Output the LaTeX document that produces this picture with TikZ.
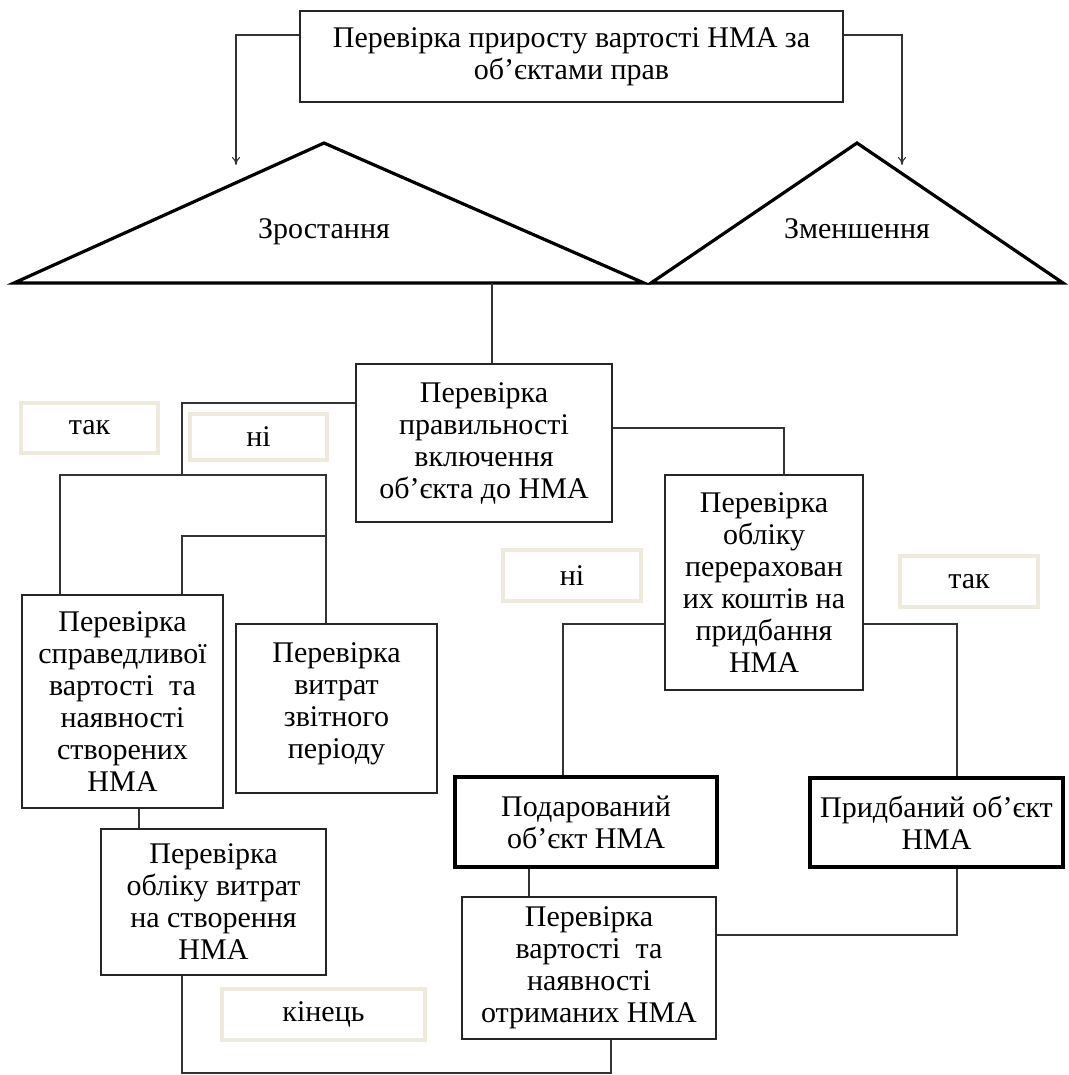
\documentclass[tikz,border=0pt]{standalone}
\usepackage{fontspec}
\setmainfont{Liberation Serif}
\usetikzlibrary{arrows.meta}
\definecolor{lblc}{RGB}{238,235,222}
\newcommand\fsz{\fontsize{22.5}{24}\selectfont}
\newcommand\bx[7]{\node[#1, minimum width={(#4-#3)*0.75pt}, minimum height={(#6-#5)*0.75pt}] (#2) at ({(#3+#4)/2},{(#5+#6)/2}) {#7};}
\begin{document}
\begin{tikzpicture}[x=0.75pt,y=-0.75pt,
  box/.style={draw=black!85, line width=1.6pt, align=center, inner sep=2pt, font=\fsz},
  thickbox/.style={box, draw=black, line width=2.8pt},
  lbl/.style={draw=lblc, line width=2.4pt, align=center, font=\fsz},
  conn/.style={draw=black!80, line width=0.8pt},
  arr/.style={conn, -{To[length=6pt,width=6pt]}},
  tri/.style={draw=black, line width=2.4pt, line join=miter},
  txt/.style={font=\fsz, anchor=base}]
\useasboundingbox (0,0) rectangle (1068,1075);

% top box
\bx{box}{top}{300}{843}{11}{102}{\fontsize{22.5}{26}\selectfont Перевірка приросту вартості НМА за\\об’єктами прав}

% triangles
\coordinate (tlA) at (14,283);
\coordinate (tlB) at (324,143);
\coordinate (tlC) at (644,283);
\coordinate (trA) at (651,283);
\coordinate (trB) at (857,143);
\coordinate (trC) at (1063,283);
\draw[tri] (tlA) -- (tlB) -- (tlC) -- cycle;
\draw[tri] (trA) -- (trB) -- (trC) -- cycle;
\node[txt] (zr) at (324,238) {Зростання};
\node[txt] (zm) at (857,238) {Зменшення};

% boxes
\bx{box}{b2}{356}{612}{364}{522}{Перевірка\\правильності\\включення\\об’єкта до НМА}
\bx{box}{b3}{22}{223}{595}{808}{Перевірка\\справедливої\\вартості~ та\\наявності\\створених\\НМА}
\bx{box}{b4}{236}{437}{624}{793}{Перевірка\\витрат\\звітного\\періоду\\[-12pt]}
\bx{box}{b5}{665}{863}{475}{690}{Перевірка\\обліку\\перерахован\\их коштів на\\придбання\\НМА}
\bx{thickbox}{b6}{455}{717}{777}{867}{Подарований\\об’єкт НМА}
\bx{thickbox}{b7}{810}{1063}{778}{867}{Придбаний об’єкт\\НМА}
\bx{box}{b8}{101}{326}{829}{975}{Перевірка\\обліку витрат\\на створення\\НМА}
\bx{box}{b9}{462}{716}{897}{1039}{Перевірка\\вартості~ та\\наявності\\отриманих НМА}

% labels
\bx{lbl}{l1}{21}{158}{403}{453}{так}
\bx{lbl}{l2}{190}{327}{414}{460}{ні}
\bx{lbl}{l3}{503}{641}{550}{601}{ні}
\bx{lbl}{l4}{900}{1038}{556}{607}{так}
\bx{lbl}{l5}{222}{425}{989}{1040}{кінець}

% connectors
\coordinate (aL) at (236,165);
\coordinate (aR) at (902,165);
\draw[arr] (top.west |- 0,35) -| (aL);
\draw[arr] (top.east |- 0,35) -| (aR);
\coordinate (base) at (492,283);
\draw[conn] (base) -- (base |- b2.north);
\coordinate (j1) at (182,475);
\draw[conn] (b2.west |- 0,403) -| (j1);
\draw[conn] (b3.north -| 60,0) |- (j1) -| (b4.north -| 326,0);
\draw[conn] (326,536) -| (b3.north -| 182,0);
\draw[conn] (b2.east |- 0,428) -| (b5.north -| 784,0);
\draw[conn] (b5.west |- 0,624) -| (b6.north -| 563,0);
\draw[conn] (b5.east |- 0,624) -| (b7.north -| 957,0);
\draw[conn] (b3.south -| 139,0) -- (b8.north -| 139,0);
\draw[conn] (b6.south -| 529,0) -- (b9.north -| 529,0);
\draw[conn] (b7.south -| 957,0) |- (b9.east |- 0,935);
\coordinate (bot) at (182,1073);
\draw[conn] (b8.south -| bot) -- (bot) -| (b9.south -| 611,0);
\end{tikzpicture}
\end{document}
